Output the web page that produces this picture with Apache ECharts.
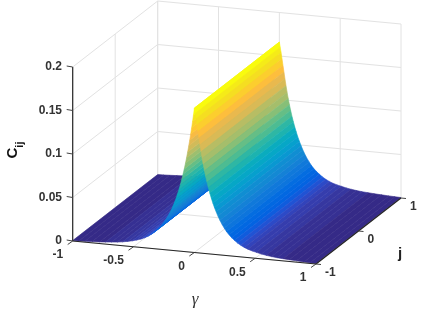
<!DOCTYPE html>
<html><head><meta charset="utf-8">
<style>html,body{margin:0;padding:0;background:#fff}#c{width:426px;height:309px}</style>
<script src="https://cdn.jsdelivr.net/npm/echarts@6/dist/echarts.min.js"></script>
</head><body><div id="c"></div>
<script>
// values
const gammaLeft = [-1,-0.95,-0.9,-0.84,-0.78,-0.73,-0.68,-0.635,-0.59,-0.55,-0.51,-0.475,-0.44,-0.41,-0.382,-0.355,-0.33,-0.307,-0.285,-0.264,-0.245,-0.227,-0.21,-0.194,-0.179,-0.165,-0.152,-0.139,-0.127,-0.115,-0.104,-0.093,-0.083,-0.073,-0.064,-0.055,-0.046,-0.038,-0.03,-0.022,-0.0145,-0.0072];
const cLeft = [0.0005,0.0007,0.001,0.0014,0.0019,0.0024,0.003,0.0036,0.0045,0.0055,0.0067,0.008,0.0096,0.0115,0.0136,0.0161,0.0189,0.0219,0.0252,0.0288,0.0326,0.0366,0.0408,0.0452,0.0498,0.0546,0.0596,0.065,0.0705,0.0764,0.0824,0.0888,0.095,0.1016,0.108,0.1148,0.122,0.1286,0.1358,0.143,0.1504,0.158];
const gammaPeak = [0];
const cPeak = [0.166];
const gammaRight = [0.0072,0.0145,0.022,0.03,0.038,0.046,0.055,0.064,0.073,0.083,0.093,0.104,0.115,0.127,0.139,0.152,0.165,0.179,0.194,0.21,0.227,0.245,0.264,0.285,0.307,0.33,0.355,0.382,0.41,0.44,0.475,0.51,0.55,0.59,0.635,0.68,0.73,0.78,0.84,0.9,0.95,1];
const cRight = [0.16,0.154,0.147,0.1395,0.132,0.1245,0.1165,0.109,0.102,0.095,0.0885,0.082,0.076,0.07,0.0645,0.059,0.054,0.0491,0.0444,0.0398,0.0355,0.0314,0.0276,0.0241,0.0211,0.0183,0.0156,0.0133,0.0113,0.0096,0.0081,0.0069,0.0056,0.0046,0.0037,0.003,0.0025,0.002,0.0015,0.0011,0.0008,0.0005];
const jEnds = [-1, 1];
const gammaTicks = [-1,-0.5,0,0.5,1];
const gammaTickLabels = ['-1','-0.5','0','0.5','1'];
const jTicks = [-1,0,1];
const jTickLabels = ['-1','0','1'];
const zTicks = [0,0.05,0.1,0.15,0.2];
const zTickLabels = ['0','0.05','0.1','0.15','0.2'];
const parula = [[.2081,.1663,.5292],[.2116,.1898,.5777],[.2123,.2138,.627],[.2081,.2386,.6771],[.1959,.2645,.7279],[.1707,.2919,.7792],[.1253,.3242,.8303],[.0591,.3598,.8683],[.0117,.3875,.882],[.006,.4086,.8828],[.0165,.4266,.8786],[.0329,.443,.872],[.0498,.4586,.8641],[.0629,.4737,.8554],[.0723,.4887,.8467],[.0779,.504,.8384],[.0793,.52,.8312],[.0749,.5375,.8263],[.0641,.557,.824],[.0488,.5772,.8228],[.0343,.5966,.8199],[.0265,.6137,.8135],[.0239,.6287,.8038],[.0231,.6418,.7913],[.0228,.6535,.7768],[.0267,.6642,.7607],[.0384,.6743,.7436],[.059,.6838,.7254],[.0843,.6928,.7062],[.1133,.7015,.6859],[.1453,.7098,.6646],[.1801,.7177,.6424],[.2178,.725,.6193],[.2586,.7317,.5954],[.3022,.7376,.5712],[.3482,.7424,.5473],[.3953,.7459,.5244],[.442,.7481,.5033],[.4871,.7491,.484],[.53,.7491,.4661],[.5709,.7485,.4494],[.6099,.7473,.4337],[.6473,.7456,.4188],[.6834,.7435,.4044],[.7184,.7411,.3905],[.7525,.7384,.3768],[.7858,.7356,.3633],[.8185,.7327,.3498],[.8507,.7299,.336],[.8824,.7274,.3217],[.9139,.7258,.3063],[.945,.7261,.2886],[.9739,.7314,.2666],[.9938,.7455,.2403],[.999,.7653,.2164],[.9955,.7861,.1967],[.988,.8066,.1794],[.9789,.8271,.1633],[.9697,.8481,.1475],[.9626,.8705,.1309],[.9589,.8949,.1132],[.9598,.9218,.0948],[.9661,.9514,.0755],[.9763,.9831,.0538]];

const gammas = gammaLeft.concat(gammaPeak, gammaRight);
const cs = cLeft.concat(cPeak, cRight);
const cMax = 0.166;

// orthographic projection of the 3D box onto a hidden 2D plane
const O = [72.7, 241], GX = [243.3, 23], JX = [85, -66], ZH = 174;
function proj(g, j, z) {
  const t = (g + 1) / 2, u = (j + 1) / 2;
  return [O[0] + t * GX[0] + u * JX[0], O[1] + t * GX[1] + u * JX[1] - z / 0.2 * ZH];
}
function colorFor(z) {
  const i = Math.max(0, Math.min(63, Math.floor(z / cMax * 64)));
  const c = parula[i];
  return 'rgb(' + c.map(v => Math.round(v * 255)).join(',') + ')';
}
const zTop = zTicks[zTicks.length - 1], zLow = zTicks[0];
const gMin = gammaTicks[0], gMax = gammaTicks[4], jMin = jTicks[0], jMax = jTicks[2];

// grid lines on the back walls and floor
const gridSegs = [];
zTicks.forEach(z => {
  gridSegs.push([gMin, jMin, z, gMin, jMax, z]);
  gridSegs.push([gMin, jMax, z, gMax, jMax, z]);
});
gammaTicks.forEach(g => {
  gridSegs.push([g, jMin, zLow, g, jMax, zLow]);
  gridSegs.push([g, jMax, zLow, g, jMax, zTop]);
});
jTicks.forEach(j => {
  gridSegs.push([gMin, j, zLow, gMax, j, zLow]);
  gridSegs.push([gMin, j, zLow, gMin, j, zTop]);
});

const strips = [];
for (let i = 0; i < gammas.length - 1; i++) strips.push([gammas[i], gammas[i + 1], cs[i], cs[i + 1]]);

const axisSegs = [
  [gMin, jMin, zLow, gMin, jMin, zTop],
  [gMin, jMin, zLow, gMax, jMin, zLow],
  [gMax, jMin, zLow, gMax, jMax, zLow]
];
const tickMarks = [];
zTicks.forEach(z => tickMarks.push([gMin, jMin, z, -6, -1]));
gammaTicks.forEach(g => tickMarks.push([g, jMin, zLow, -5, 3.5]));
jTicks.forEach(j => tickMarks.push([gMax, j, zLow, 5, 0.5]));

const labels = [];
zTicks.forEach((z, i) => labels.push([gMin, jMin, z, zTickLabels[i], -10.7, 0, 'right']));
gammaTicks.forEach((g, i) => labels.push([g, jMin, zLow, gammaTickLabels[i], -9.5, 14, 'right']));
jTicks.forEach((j, i) => labels.push([gMax, j, zLow, jTickLabels[i], 9, 8.5, 'left']));

const chart = echarts.init(document.getElementById('c'), null, {renderer: 'canvas'});
function pt(api, p) { return api.coord(p); }
chart.setOption({
  animation: false,
  backgroundColor: '#fff',
  grid: {left: 0, right: 0, top: 0, bottom: 0},
  xAxis: {type: 'value', min: 0, max: 426, show: false},
  yAxis: {type: 'value', min: 0, max: 309, inverse: true, show: false},
  series: [
    {
      type: 'custom', silent: true, clip: false, z: 1, coordinateSystem: 'cartesian2d',
      data: gridSegs,
      renderItem(params, api) {
        const d = gridSegs[params.dataIndex];
        const a = pt(api, proj(d[0], d[1], d[2])), b = pt(api, proj(d[3], d[4], d[5]));
        return {type: 'line', shape: {x1: a[0], y1: a[1], x2: b[0], y2: b[1]}, style: {stroke: '#e2e2e2', lineWidth: 1}};
      }
    },
    {
      type: 'custom', silent: true, clip: false, z: 2, coordinateSystem: 'cartesian2d',
      data: strips,
      renderItem(params, api) {
        const d = strips[params.dataIndex];
        const pts = [proj(d[0], jEnds[0], d[2]), proj(d[1], jEnds[0], d[3]), proj(d[1], jEnds[1], d[3]), proj(d[0], jEnds[1], d[2])].map(p => pt(api, p));
        const col = colorFor(Math.max(d[2], d[3]));
        return {type: 'polygon', shape: {points: pts}, style: {fill: col, stroke: col, lineWidth: 0.6}};
      }
    },
    {
      type: 'custom', silent: true, clip: false, z: 3, coordinateSystem: 'cartesian2d',
      data: axisSegs,
      renderItem(params, api) {
        const d = axisSegs[params.dataIndex];
        const a = pt(api, proj(d[0], d[1], d[2])), b = pt(api, proj(d[3], d[4], d[5]));
        return {type: 'line', shape: {x1: a[0], y1: a[1], x2: b[0], y2: b[1]}, style: {stroke: '#262626', lineWidth: 1.2}};
      }
    },
    {
      type: 'custom', silent: true, clip: false, z: 3, coordinateSystem: 'cartesian2d',
      data: tickMarks,
      renderItem(params, api) {
        const d = tickMarks[params.dataIndex];
        const a = pt(api, proj(d[0], d[1], d[2]));
        return {type: 'line', shape: {x1: a[0], y1: a[1], x2: a[0] + d[3], y2: a[1] + d[4]}, style: {stroke: '#444', lineWidth: 1}};
      }
    },
    {
      type: 'custom', silent: true, clip: false, z: 4, coordinateSystem: 'cartesian2d',
      data: labels,
      renderItem(params, api) {
        const d = labels[params.dataIndex];
        const a = pt(api, proj(d[0], d[1], d[2]));
        return {type: 'text', x: a[0] + d[4], y: a[1] + d[5], style: {text: d[3], align: d[6], verticalAlign: 'middle', fill: '#333', font: 'bold 12px "Liberation Sans"'}};
      }
    }
  ],
  graphic: [
    {type: 'text', x: 15, y: 150, rotation: Math.PI / 2, style: {
      text: '{c|C}{s|ij}', align: 'center', verticalAlign: 'middle',
      rich: {
        c: {font: 'bold 15px "Liberation Sans"', fill: '#111', verticalAlign: 'top', lineHeight: 20},
        s: {font: 'bold 11px "Liberation Sans"', fill: '#111', verticalAlign: 'bottom', lineHeight: 20}
      }}},
    {type: 'text', x: 400, y: 254, style: {text: 'j', align: 'center', verticalAlign: 'middle', fill: '#222', font: 'bold 15px "Liberation Sans"'}},
    {type: 'text', x: 195, y: 300, style: {text: 'γ', align: 'center', verticalAlign: 'middle', fill: '#333', font: 'italic 17px "Liberation Serif"'}}
  ]
});
</script></body></html>
